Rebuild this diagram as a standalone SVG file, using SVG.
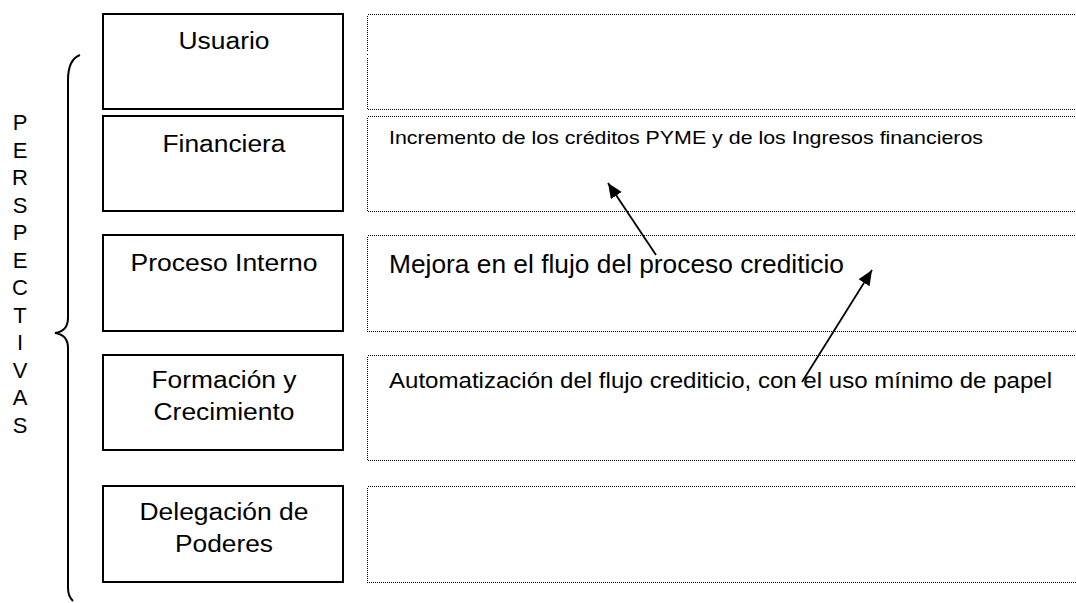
<svg xmlns="http://www.w3.org/2000/svg" width="1076" height="603" viewBox="0 0 1076 603">
<defs>
<style>
.box{fill:#fff;stroke:#000;stroke-width:2}
.dot{fill:none;stroke:#000;stroke-width:1;stroke-dasharray:1 1;shape-rendering:crispEdges}
.lbl{font-family:"Liberation Sans",Arial,sans-serif;font-size:23.5px;fill:#000;text-anchor:middle}
.txt{font-family:"Liberation Sans",Arial,sans-serif;fill:#000}
.conn{stroke:#000;stroke-width:1.8;fill:none;marker-end:url(#ah)}
</style>
<marker id="ah" markerUnits="userSpaceOnUse" markerWidth="16" markerHeight="14" refX="15" refY="6.5" orient="auto">
<path d="M0,0 L15,6.5 L0,13 z" fill="#000"/>
</marker>
</defs>
<rect width="1076" height="603" fill="#fff"/>

<g id="perspectivas">
<path d="M80,55 C72,58 68,66 68,80 L68,318 C68,328 62,332 55,333 C62,334 68,338 68,348 L68,588 C68,594 70,598 73,601" fill="none" stroke="#000" stroke-width="2"/>
<g class="txt" font-size="22" text-anchor="middle">
<text x="20" y="130">P</text>
<text x="20" y="157.5">E</text>
<text x="20" y="185">R</text>
<text x="20" y="212.5">S</text>
<text x="20" y="240">P</text>
<text x="20" y="267.5">E</text>
<text x="20" y="295">C</text>
<text x="20" y="322.5">T</text>
<text x="20" y="350">I</text>
<text x="20" y="377.5">V</text>
<text x="20" y="405">A</text>
<text x="20" y="432.5">S</text>
</g>
</g>

<g id="usuario">
<rect class="box" x="103" y="14" width="240" height="95"/>
<text class="lbl" x="224" y="49" textLength="91" lengthAdjust="spacingAndGlyphs">Usuario</text>
</g>
<g id="financiera">
<rect class="box" x="103" y="116" width="240" height="95"/>
<text class="lbl" x="224" y="152" textLength="123" lengthAdjust="spacingAndGlyphs">Financiera</text>
</g>
<g id="proceso">
<rect class="box" x="103" y="235" width="240" height="96"/>
<text class="lbl" x="224" y="271" textLength="187" lengthAdjust="spacingAndGlyphs">Proceso Interno</text>
</g>
<g id="formacion">
<rect class="box" x="103" y="355" width="240" height="95"/>
<text class="lbl" x="224" y="388" textLength="145" lengthAdjust="spacingAndGlyphs">Formación y</text>
<text class="lbl" x="224" y="420" textLength="141" lengthAdjust="spacingAndGlyphs">Crecimiento</text>
</g>
<g id="delegacion">
<rect class="box" x="103" y="486" width="240" height="96"/>
<text class="lbl" x="224" y="520" textLength="169" lengthAdjust="spacingAndGlyphs">Delegación de</text>
<text class="lbl" x="224" y="552" textLength="98" lengthAdjust="spacingAndGlyphs">Poderes</text>
</g>

<g id="obj-usuario">
<rect class="dot" x="367.5" y="14.5" width="720" height="95"/>
</g>
<g id="obj-financiera">
<rect class="dot" x="367.5" y="116.5" width="720" height="95"/>
<text class="txt" x="389" y="144" font-size="19" textLength="594" lengthAdjust="spacingAndGlyphs">Incremento de los créditos PYME y de los Ingresos financieros</text>
</g>
<g id="obj-proceso">
<rect class="dot" x="367.5" y="235.5" width="720" height="96"/>
<text class="txt" x="389" y="273" font-size="25" textLength="455" lengthAdjust="spacingAndGlyphs">Mejora en el flujo del proceso crediticio</text>
</g>
<g id="obj-formacion">
<rect class="dot" x="367.5" y="355.5" width="720" height="105"/>
<text class="txt" x="389" y="388" font-size="22" textLength="663" lengthAdjust="spacingAndGlyphs">Automatización del flujo crediticio, con el uso mínimo de papel</text>
</g>
<g id="obj-delegacion">
<rect class="dot" x="367.5" y="486.5" width="720" height="96"/>
</g>

<g id="connectors">
<line class="conn" x1="656" y1="255" x2="608" y2="183"/>
<line class="conn" x1="802" y1="382" x2="872" y2="270"/>
</g>
</svg>
